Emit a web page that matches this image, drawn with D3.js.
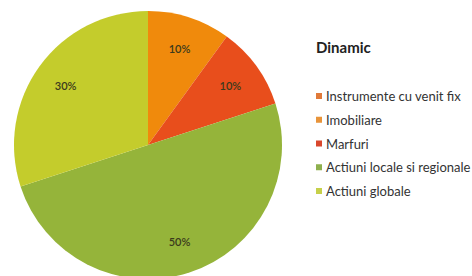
<!DOCTYPE html>
<html><head><meta charset="utf-8">
<script src="https://cdn.jsdelivr.net/npm/d3@7"></script>
<style>html,body{margin:0;padding:0;background:#fff;}svg{display:block;}</style>
</head><body>
<svg id="c" width="472" height="276"></svg>
<script>
const categories = ["Instrumente cu venit fix", "Imobiliare", "Marfuri", "Actiuni locale si regionale", "Actiuni globale"];
const values = [0, 10, 10, 50, 30];
const sliceColors = ["#E07A2E", "#F08A0C", "#E84E1C", "#95B43A", "#C4CC2C"];
const legendColors = ["#E07A3A", "#E8943A", "#D9472C", "#8EB04E", "#C6D04A"];
const title = "Dinamic";

const font = "Lato, 'Open Sans', sans-serif";
const svg = d3.select("#c");
const cx = 148, cy = 145, r = 134;
const data = categories.map((c, i) => ({name: c, value: values[i], i}));
const pie = d3.pie().value(d => d.value).sort(null);
const arc = d3.arc().innerRadius(0).outerRadius(r);
const labelArc = d3.arc().innerRadius(r * 0.76).outerRadius(r * 0.76);
const g = svg.append("g").attr("transform", `translate(${cx},${cy})`);
const arcs = pie(data);
g.selectAll("path").data(arcs).join("path")
  .attr("d", arc).attr("fill", d => sliceColors[d.data.i]);
g.selectAll("text").data(arcs.filter(d => d.data.value > 0)).join("text")
  .attr("transform", d => `translate(${labelArc.centroid(d)})`)
  .attr("text-anchor", "middle").attr("dominant-baseline", "central")
  .attr("font-family", font).attr("font-size", 11).attr("font-weight", 600)
  .attr("fill", "#3b3a1c")
  .text(d => d.data.value + "%");

svg.append("text").attr("x", 316).attr("y", 53)
  .attr("font-family", font).attr("font-weight", "bold")
  .attr("font-size", 15).attr("fill", "#222").text(title);

const ly = d3.scalePoint().domain(categories).range([96, 191]);
const items = svg.append("g").selectAll("g").data(data).join("g")
  .attr("transform", d => `translate(316,${ly(d.name)})`);
items.append("rect").attr("x", 0).attr("y", -3).attr("width", 6).attr("height", 6)
  .attr("fill", d => legendColors[d.i]);
items.append("text").attr("x", 10).attr("y", 0).attr("dominant-baseline", "central")
  .attr("font-family", font).attr("font-size", 13)
  .attr("fill", "#333").text(d => d.name);
</script>
</body></html>
